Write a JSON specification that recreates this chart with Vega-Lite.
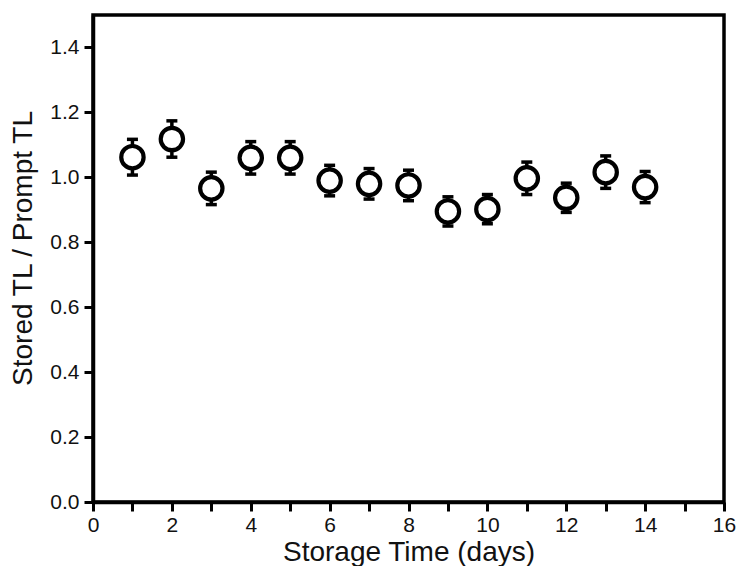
{
  "$schema": "https://vega.github.io/schema/vega-lite/v6.json",
  "width": 631,
  "height": 487,
  "autosize": {"type": "none"},
  "padding": {"left": 93, "top": 15, "right": 12, "bottom": 64},
  "background": "white",
  "config": {
    "view": {"stroke": "black", "strokeWidth": 3.5},
    "font": "Liberation Sans",
    "axis": {
      "grid": false,
      "domainColor": "black",
      "domainWidth": 3.5,
      "tickColor": "black",
      "tickWidth": 3,
      "tickSize": 9,
      "labelColor": "#111",
      "titleColor": "#111",
      "labelFont": "Liberation Sans",
      "titleFont": "Liberation Sans",
      "labelFontSize": 21,
      "titleFontSize": 28,
      "titleFontWeight": "normal"
    }
  },
  "data": {
    "values": [
      {"day": 1, "ratio": 1.062, "lo": 1.007, "hi": 1.117},
      {"day": 2, "ratio": 1.118, "lo": 1.062, "hi": 1.174},
      {"day": 3, "ratio": 0.966, "lo": 0.916, "hi": 1.016},
      {"day": 4, "ratio": 1.06, "lo": 1.01, "hi": 1.11},
      {"day": 5, "ratio": 1.06, "lo": 1.01, "hi": 1.11},
      {"day": 6, "ratio": 0.99, "lo": 0.943, "hi": 1.037},
      {"day": 7, "ratio": 0.98, "lo": 0.933, "hi": 1.027},
      {"day": 8, "ratio": 0.975, "lo": 0.928, "hi": 1.022},
      {"day": 9, "ratio": 0.895, "lo": 0.85, "hi": 0.94},
      {"day": 10, "ratio": 0.902, "lo": 0.857, "hi": 0.947},
      {"day": 11, "ratio": 0.997, "lo": 0.947, "hi": 1.047},
      {"day": 12, "ratio": 0.937, "lo": 0.892, "hi": 0.982},
      {"day": 13, "ratio": 1.016, "lo": 0.966, "hi": 1.066},
      {"day": 14, "ratio": 0.97, "lo": 0.922, "hi": 1.018}
    ]
  },
  "encoding": {
    "x": {
      "field": "day",
      "type": "quantitative",
      "scale": {"domain": [0, 16], "nice": false, "zero": false},
      "axis": {
        "title": "Storage Time (days)",
        "values": [0,1,2,3,4,5,6,7,8,9,10,11,12,13,14,15,16],
        "labelExpr": "datum.value % 2 == 0 ? datum.label : ''",
        "labelPadding": 3,
        "labelFlush": false,
        "labelOverlap": false,
        "titleY": 58,
        "titleBaseline": "alphabetic",
        "encode": {"ticks": {"update": {"y2": {"signal": "datum.value % 2 == 0 ? 9 : 5"}}}}
      }
    }
  },
  "layer": [
    {
      "mark": {"type": "rule", "color": "black", "strokeWidth": 3.5},
      "encoding": {
        "y": {
          "field": "lo",
          "type": "quantitative",
          "scale": {"domain": [0, 1.5], "nice": false},
          "axis": {
            "title": "Stored TL / Prompt TL",
            "values": [0,0.1,0.2,0.3,0.4,0.5,0.6,0.7,0.8,0.9,1.0,1.1,1.2,1.3,1.4],
            "labelExpr": "round(datum.value*10) % 2 == 0 ? format(datum.value, '.1f') : ''",
            "labelPadding": 5,
            "labelFlush": false,
            "labelOverlap": false,
            "titleX": -62,
            "titleY": 233,
            "titleAngle": -90,
            "titleAlign": "center",
            "titleBaseline": "alphabetic",
            "encode": {"ticks": {"update": {"x2": {"signal": "round(datum.value*10) % 2 == 0 ? -9 : -5"}}}}
          }
        },
        "y2": {"field": "hi"}
      }
    },
    {
      "mark": {"type": "point", "shape": "circle", "filled": false, "fill": "white", "fillOpacity": 1, "stroke": "black", "strokeWidth": 4.2, "size": 500, "opacity": 1},
      "encoding": {"y": {"field": "ratio", "type": "quantitative"}}
    },
    {
      "mark": {"type": "point", "shape": "M-1,0L1,0", "filled": false, "stroke": "black", "strokeWidth": 3.5, "size": 121, "opacity": 1},
      "encoding": {"y": {"field": "lo", "type": "quantitative"}}
    },
    {
      "mark": {"type": "point", "shape": "M-1,0L1,0", "filled": false, "stroke": "black", "strokeWidth": 3.5, "size": 121, "opacity": 1},
      "encoding": {"y": {"field": "hi", "type": "quantitative"}}
    }
  ]
}
